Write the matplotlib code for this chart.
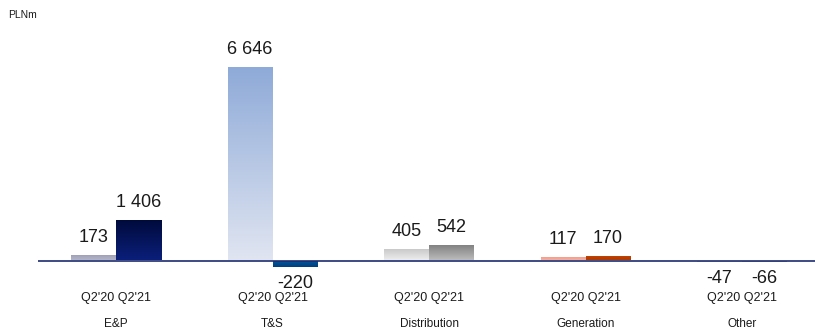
import numpy as np
import matplotlib
matplotlib.use("Agg")
import matplotlib.pyplot as plt
from matplotlib.colors import LinearSegmentedColormap

plt.rcParams['font.family'] = ['Liberation Sans', 'DejaVu Sans']

# Segment results, PLNm
segments = ["E&P", "T&S", "Distribution", "Generation", "Other"]
periods = ["Q2'20", "Q2'21"]
q2_20 = [173, 6646, 405, 117, -47]
q2_21 = [1406, -220, 542, 170, -66]

# (top colour, bottom colour) for each bar's vertical gradient
colors_20 = [("#9c9cb6", "#b4b4c8"), ("#8eaad8", "#e0e5f1"), ("#c6c6c6", "#ededed"),
             ("#f29a86", "#f7ad9c"), ("#cfd3e2", "#cfd3e2")]
colors_21 = [("#000a3a", "#0b1f7a"), ("#0058a0", "#003f7c"), ("#7e7e7e", "#bcbcbc"),
             ("#c24404", "#b03a00"), ("#a9adbd", "#a9adbd")]


def fmt(v):
    s = f"{abs(v):,}".replace(",", " ")
    return ("-" if v < 0 else "") + s


W, H, DPI = 815, 329, 100
fig = plt.figure(figsize=(W / DPI, H / DPI), dpi=DPI)

# axes spans from the baseline's left end to the right edge
ax = fig.add_axes([38 / W, 0, 1 - 38 / W, 1])
ax.set_axis_off()

spacing_px = 156.5
first_px = 116
bar_w = 45 / spacing_px
x_min = (38 - first_px) / spacing_px
x_max = (W - first_px) / spacing_px
base_px = 260.5
units_per_px = 6646 / 193.5


def py(px):
    """Vertical position in data units for a pixel row measured from the top."""
    return (base_px - px) * units_per_px


x = np.arange(len(segments))
bars20 = ax.bar(x - bar_w / 2, q2_20, width=bar_w, zorder=2)
bars21 = ax.bar(x + bar_w / 2, q2_21, width=bar_w, zorder=2)

grad = np.linspace(0, 1, 256).reshape(-1, 1)
for bars, cols in ((bars20, colors_20), (bars21, colors_21)):
    for patch, (top, bottom) in zip(bars, cols):
        x0 = patch.get_x()
        x1 = x0 + patch.get_width()
        y0 = patch.get_y()
        y1 = y0 + patch.get_height()
        lo, hi = min(y0, y1), max(y0, y1)
        cmap = LinearSegmentedColormap.from_list("g", [top, bottom])
        im = ax.imshow(grad, cmap=cmap, extent=(x0, x1, lo, hi), origin="upper",
                       aspect="auto", zorder=2, interpolation="bilinear")
        im.set_clip_path(patch)
        patch.set_facecolor("none")
        patch.set_edgecolor("none")

ax.set_xlim(x_min, x_max)
ax.set_ylim(py(H), py(0))

ax.axhline(0, color="#1c2b6e", lw=1.2, zorder=3)

# value labels
for bars, vals in ((bars20, q2_20), (bars21, q2_21)):
    for patch, v in zip(bars, vals):
        cx = patch.get_x() + patch.get_width() / 2
        off = 6.5 if v >= 0 else -5.5
        ax.annotate(fmt(v), (cx, v), xytext=(0, off), textcoords="offset points",
                    ha="center", va="bottom" if v >= 0 else "top",
                    fontsize=13, color="#1a1a1a")

# period and segment labels
for i, seg in enumerate(segments):
    ax.text(i, py(297.5), f"{periods[0]} {periods[1]}", ha="center", va="center",
            fontsize=9, color="#1a1a1a")
    ax.text(i, py(324), seg, ha="center", va="center", fontsize=8.5, color="#1a1a1a")

fig.text(8 / W, 1 - 15 / H, "PLNm", ha="left", va="center", fontsize=7.5, color="#1a1a1a")

fig.savefig("out.png", dpi=DPI)
